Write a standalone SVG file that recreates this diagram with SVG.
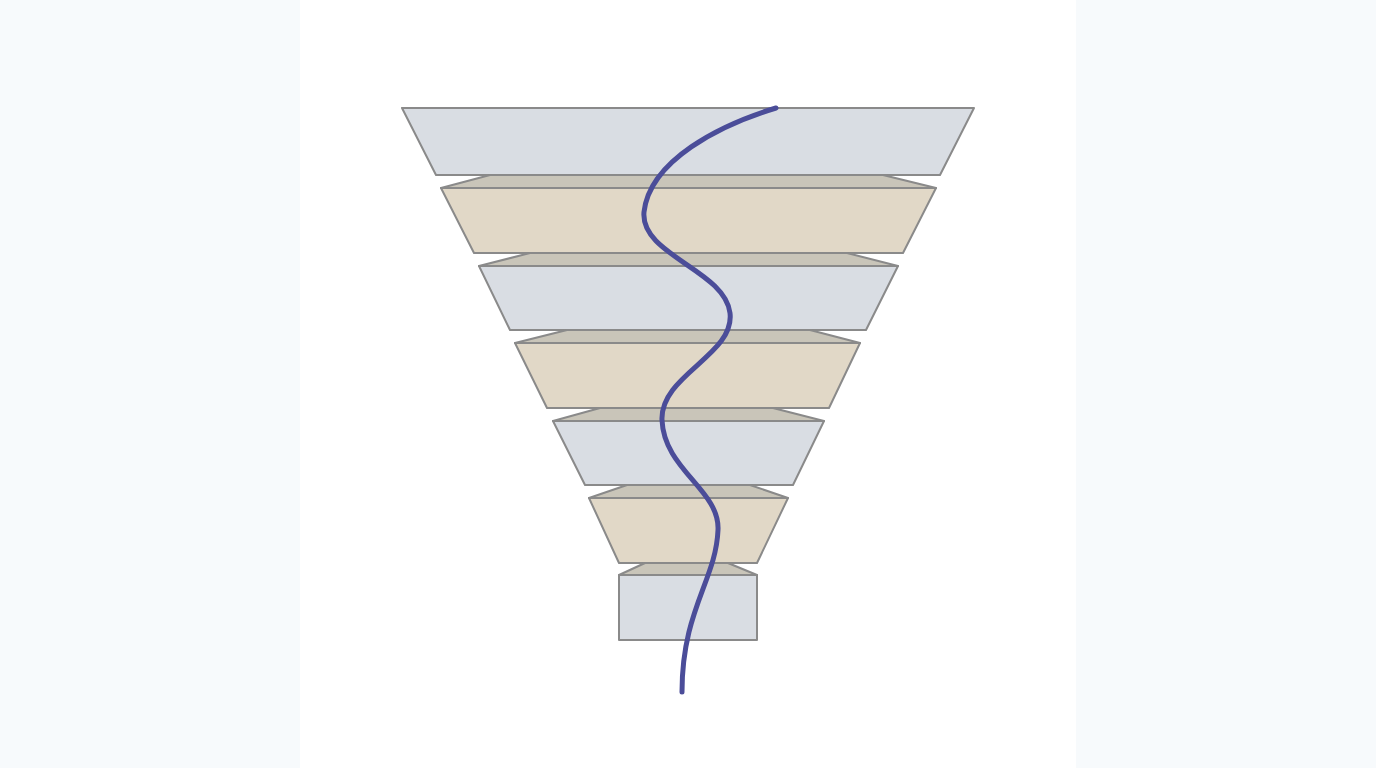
<svg xmlns="http://www.w3.org/2000/svg" width="1376" height="768" viewBox="0 0 1376 768">
<style>
.f{stroke:#8a8a8a;stroke-width:2;stroke-linejoin:round}
.b{fill:#d9dde3}
.t{fill:#e1d8c7}
.l{fill:#c9c5b9}
.c{fill:none;stroke:#4b4d99;stroke-width:5;stroke-linecap:round}
</style>
<rect width="1376" height="768" fill="#ffffff"/>
<rect x="0" y="0" width="300" height="768" fill="#f7fafc"/>
<rect x="1076" y="0" width="300" height="768" fill="#f7fafc"/>
<g id="layer1"><polygon class="f b" points="402,108 974,108 940,175 436,175"/></g>
<g id="layer2"><polygon class="f l" points="490,175 883,175 936,188 441,188"/><polygon class="f t" points="441,188 936,188 903,253 474,253"/></g>
<g id="layer3"><polygon class="f l" points="530,253 847,253 898,266 479,266"/><polygon class="f b" points="479,266 898,266 866,330 510,330"/></g>
<g id="layer4"><polygon class="f l" points="567,330 810,330 860,343 515,343"/><polygon class="f t" points="515,343 860,343 829,408 547,408"/></g>
<g id="layer5"><polygon class="f l" points="600,408 773,408 824,421 553,421"/><polygon class="f b" points="553,421 824,421 793,485 585,485"/></g>
<g id="layer6"><polygon class="f l" points="627,485 750,485 788,498 589,498"/><polygon class="f t" points="589,498 788,498 757,563 619,563"/></g>
<g id="layer7"><polygon class="f l" points="645,563 728,563 757,575 619,575"/><polygon class="f b" points="619,575 757,575 757,640 619,640"/></g>
<g id="connectors"><path class="c" d="M776,108 C720,125 650,160 644,212 C640,255 725,270 730,313 C735,355 660,375 662,420 C664,470 720,490 718,530 C716,580 682,610 682,692"/></g>
</svg>
